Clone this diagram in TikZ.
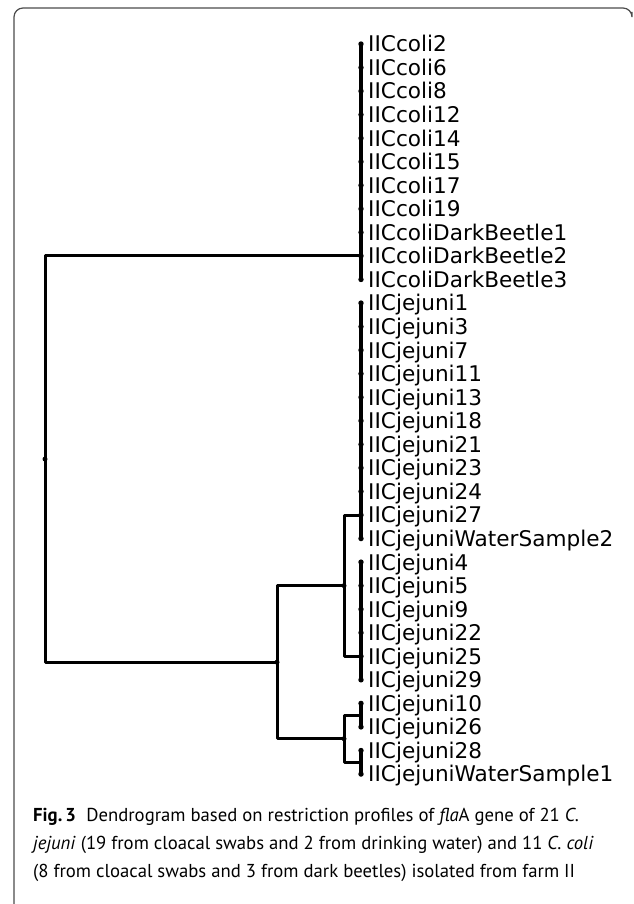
\documentclass[tikz,border=0pt]{standalone}
\usepackage{fontspec}
\setmainfont{PT Sans}
\newfontfamily\labfont{DejaVu Sans}
\usetikzlibrary{calc}
\begin{document}
\begin{tikzpicture}[x=1pt,y=-1pt,
  edge/.style={line width=3pt, line join=round},
  leafline/.style={line width=3.6pt, line cap=round},
  leafdot/.style={circle, fill=black, inner sep=0pt, minimum size=5.4pt},
  ndot/.style={circle, fill=black, inner sep=0pt, minimum size=5pt},
  lab/.style={anchor=base west, inner sep=0pt, font=\labfont\fontsize{21.6}{24}\selectfont},
  captext/.style={anchor=base west, inner sep=0pt, font=\fontsize{18.7}{27}\selectfont},
  frame/.style={draw=black!70, line width=1.2pt}]
\useasboundingbox (0,0) rectangle (633,904);
% frame
\draw[frame, rounded corners=9pt] (14,904) -- (14,8) -- (632,8) -- (632,12);
% leaves
\foreach \lab [count=\i from 0] in {IICcoli2,IICcoli6,IICcoli8,IICcoli12,IICcoli14,IICcoli15,IICcoli17,IICcoli19,IICcoliDarkBeetle1,IICcoliDarkBeetle2,IICcoliDarkBeetle3,IICjejuni1,IICjejuni3,IICjejuni7,IICjejuni11,IICjejuni13,IICjejuni18,IICjejuni21,IICjejuni23,IICjejuni24,IICjejuni27,IICjejuniWaterSample2,IICjejuni4,IICjejuni5,IICjejuni9,IICjejuni22,IICjejuni25,IICjejuni29,IICjejuni10,IICjejuni26,IICjejuni28,IICjejuniWaterSample1}{
  \node[leafdot] (d\i) at (361,{44+23.55*\i}) {};
  \node[lab] (t\i) at (368,{44+23.55*\i+7.9}) {\lab};
}
% cluster verticals
\draw[leafline] (d0.center) -- (d10.center);
\draw[leafline] (d11.center) -- (d21.center);
\draw[leafline] (d22.center) -- (d27.center);
\draw[leafline] (d28.center) -- (d29.center);
\draw[leafline] (d30.center) -- (d31.center);
\coordinate (cC) at ($(d28.center)!0.5!(d29.center)$);
\coordinate (cD) at ($(d30.center)!0.5!(d31.center)$);
% internal nodes
\node[ndot] (nAB) at (344,{44+23.55*23}) {};
\node[ndot] (nCD) at (344,{44+23.55*29.5}) {};
\node[ndot] (nJ) at (277,{44+23.55*26.25}) {};
\node[ndot] (root) at (45,{44+23.55*17.625}) {};
% edges
\draw[edge] (nAB.center) |- (d20.center);
\draw[edge] (nAB.center) |- (d26.center);
\draw[edge] (nCD.center) |- (cC);
\draw[edge] (nCD.center) |- (cD);
\draw[edge] (nJ.center) |- (nAB.center);
\draw[edge] (nJ.center) |- (nCD.center);
\draw[edge] (root.center) |- (d9.center);
\draw[edge] (root.center) |- (nJ.center);
% caption
\node[captext] (cap1) at (33,821) {\textbf{Fig.\,3}\hspace{0.55em}Dendrogram based on restriction profiles of \textit{fla}A gene of 21 \textit{C.}};
\node[captext] (cap2) at (33,849) {\textit{jejuni} (19 from cloacal swabs and 2 from drinking water) and 11 \textit{C. coli}};
\node[captext] (cap3) at (33,877) {(8 from cloacal swabs and 3 from dark beetles) isolated from farm II};
\end{tikzpicture}
\end{document}
